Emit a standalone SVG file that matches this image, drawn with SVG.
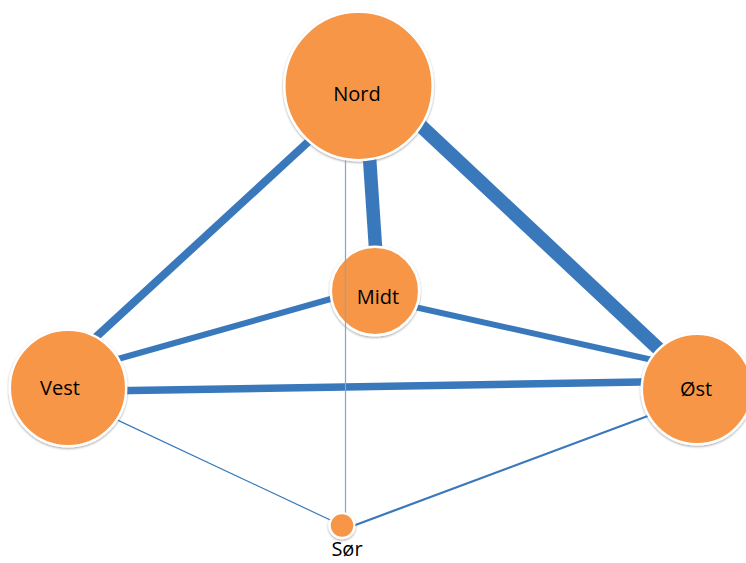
<svg xmlns="http://www.w3.org/2000/svg" width="746" height="563" viewBox="0 0 746 563">
  <style>
    .node { fill: #F79646; stroke: #FFFFFF; stroke-width: 2.5; filter: url(#shadow); }
    .label { font-family: "Open Sans", "Liberation Sans", sans-serif; font-size: 20px; fill: #000000; text-anchor: middle; }
    .edge { stroke: #3A78BC; fill: none; stroke-linecap: butt; mask: url(#m-all); }
  </style>
  <defs>
    <filter id="shadow" x="-20%" y="-20%" width="140%" height="140%">
      <feDropShadow dx="0" dy="1.2" stdDeviation="1.2" flood-color="#000000" flood-opacity="0.35"/>
    </filter>
    <mask id="m-all" maskUnits="userSpaceOnUse" x="0" y="0" width="746" height="563">
      <rect x="0" y="0" width="746" height="563" fill="#FFFFFF"/>
      <circle cx="358.5" cy="86" r="75.5" fill="#000000"/>
      <circle cx="375" cy="291" r="45.5" fill="#000000"/>
      <circle cx="68" cy="388" r="59.5" fill="#000000"/>
      <circle cx="697" cy="389" r="56.5" fill="#000000"/>
      <circle cx="342" cy="525.5" r="13.5" fill="#000000"/>
    </mask>
    <mask id="m-ns" maskUnits="userSpaceOnUse" x="0" y="0" width="746" height="563">
      <rect x="0" y="0" width="746" height="563" fill="#FFFFFF"/>
      <circle cx="358.5" cy="86" r="75.5" fill="#000000"/>
      <circle cx="342" cy="525.5" r="13.5" fill="#000000"/>
    </mask>
  </defs>
  <rect x="0" y="0" width="746" height="563" fill="#FFFFFF"/>

  <g id="node-nord">
    <circle class="node" cx="358.5" cy="86" r="74.2"/>
    <text class="label" x="357" y="101">Nord</text>
  </g>
  <g id="node-midt">
    <circle class="node" cx="375" cy="291" r="44.2"/>
    <text class="label" x="378" y="304">Midt</text>
  </g>
  <g id="node-vest">
    <circle class="node" cx="68" cy="388" r="58.2"/>
    <text class="label" x="60" y="395">Vest</text>
  </g>
  <g id="node-ost">
    <circle class="node" cx="697" cy="389" r="55.2"/>
    <text class="label" x="696" y="396">Øst</text>
  </g>
  <g id="node-sor">
    <circle class="node" cx="342" cy="525.5" r="12.5"/>
    <text class="label" x="347" y="556">Sør</text>
  </g>

  <g id="connectors">
    <line class="edge" x1="330.4" y1="121.4" x2="76.2" y2="355.3" stroke-width="8"/>
    <line class="edge" x1="400" y1="106.3" x2="680" y2="369" stroke-width="14"/>
    <line class="edge" x1="368" y1="135" x2="377" y2="270" stroke-width="13.5"/>
    <line class="edge" x1="100" y1="364" x2="350" y2="293.5" stroke-width="6"/>
    <line class="edge" x1="400" y1="303.7" x2="665" y2="362.8" stroke-width="6"/>
    <line class="edge" x1="100" y1="391" x2="670" y2="381.6" stroke-width="7.5"/>
    <line class="edge" x1="100" y1="411.9" x2="342" y2="525.5" stroke-width="1.2"/>
    <line class="edge" x1="680" y1="404" x2="342" y2="530" stroke-width="2.2"/>
    <line x1="345.5" y1="150" x2="345.5" y2="520" stroke="#7BA7DA" stroke-width="1.2" mask="url(#m-ns)"/>
  </g>
</svg>
